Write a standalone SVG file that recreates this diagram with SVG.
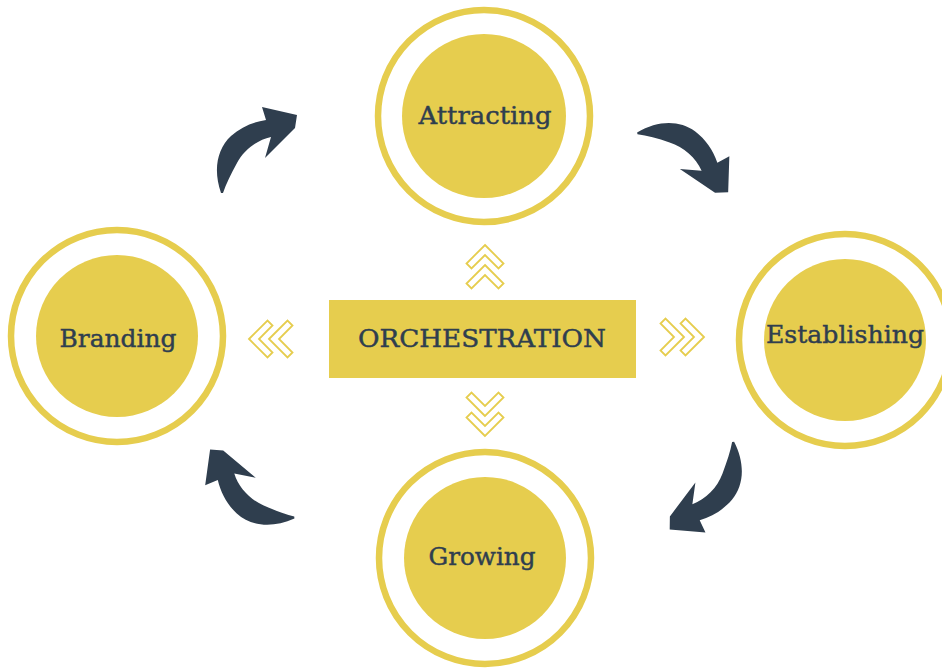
<svg xmlns="http://www.w3.org/2000/svg" width="942" height="668" viewBox="0 0 942 668">
<style>
.ring{fill:none;stroke:#e6cd4e;stroke-width:6.5}
.disc{fill:#e6cd4e}
.lbl{font-family:"DejaVu Serif","Liberation Serif",serif;font-size:25px;fill:#2f3e4f;stroke:#2f3e4f;stroke-width:0.45;text-anchor:middle}
.chev{fill:none;stroke:#e6cd4e;stroke-width:1.8;stroke-linejoin:miter}
.arrow{fill:#2f3e4e}
</style>
<defs>
<path id="arr" d="M221,193 C213,170 217,149 231,136 C241,127 253,122 266,120 L262,107 L297,115 L295,128 L265,158 L271,137 C257,140 244,150 237,163 C231,174 226,184 223,193 Z"/>
<polygon id="chv" class="chev" points="-5,0 13.5,-18.5 18.5,-13.5 5,0 18.5,13.5 13.5,18.5"/>
<g id="chev2">
<use href="#chv"/>
<use href="#chv" x="20"/>
</g>
</defs>
<rect width="942" height="668" fill="#ffffff"/>
<g id="connectors">
<use href="#arr" class="arrow"/>
<use href="#arr" class="arrow" transform="translate(705,162) rotate(79) translate(-263,-132)"/>
<use href="#arr" class="arrow" transform="translate(701,508) rotate(172) translate(-263,-132)"/>
<use href="#arr" class="arrow" transform="translate(230,482) rotate(-95) translate(-263,-132)"/>
<use href="#chev2" transform="translate(254,339)"/>
<use href="#chev2" transform="translate(699,337) rotate(180)"/>
<use href="#chev2" transform="translate(485,250) rotate(90)"/>
<use href="#chev2" transform="translate(485,431) rotate(-90)"/>
</g>
<g id="attracting">
<circle class="ring" cx="484" cy="116" r="106"/>
<circle class="disc" cx="484" cy="116" r="82"/>
<text class="lbl" x="485" y="124" textLength="133" lengthAdjust="spacingAndGlyphs">Attracting</text>
</g>
<g id="branding">
<circle class="ring" cx="117" cy="336" r="106"/>
<circle class="disc" cx="117" cy="336" r="81"/>
<text class="lbl" x="118" y="347" textLength="117" lengthAdjust="spacingAndGlyphs">Branding</text>
</g>
<g id="establishing">
<circle class="ring" cx="845" cy="340" r="106"/>
<circle class="disc" cx="845" cy="340" r="81"/>
<text class="lbl" x="845" y="343" textLength="158" lengthAdjust="spacingAndGlyphs">Establishing</text>
</g>
<g id="growing">
<circle class="ring" cx="485" cy="558" r="106"/>
<circle class="disc" cx="485" cy="558" r="81"/>
<text class="lbl" x="482" y="565" textLength="107" lengthAdjust="spacingAndGlyphs">Growing</text>
</g>
<g id="orchestration">
<rect x="329" y="300" width="307" height="78" fill="#e6cd4e"/>
<text class="lbl" x="482" y="347" textLength="248" lengthAdjust="spacingAndGlyphs">ORCHESTRATION</text>
</g>
</svg>
